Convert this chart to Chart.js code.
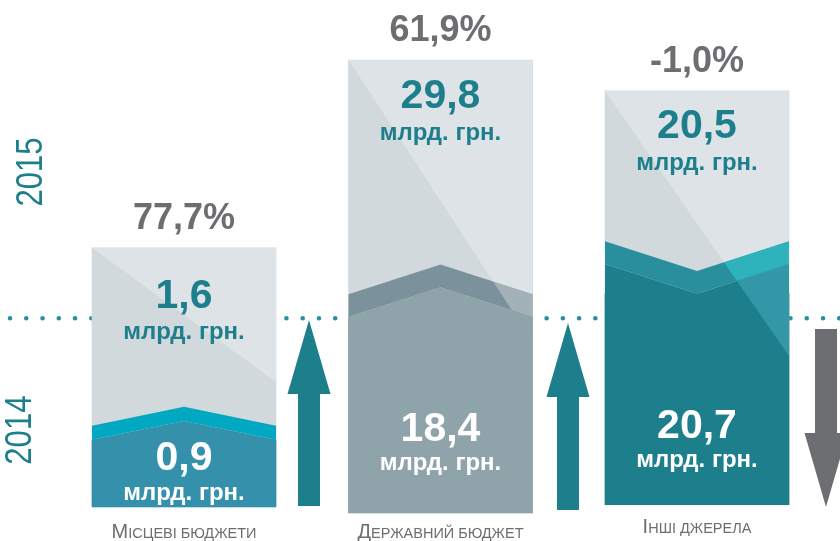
<!DOCTYPE html>
<html><head><meta charset="utf-8">
<script src="https://cdn.jsdelivr.net/npm/chart.js@4.4.0/dist/chart.umd.min.js"></script>
<style>html,body{margin:0;padding:0;background:#fff;}#wrap{width:840px;height:541px;}</style>
</head><body><div id="wrap"><canvas id="c" width="840" height="541"></canvas></div>
<script>
// ---- data ----
const categories = ['Місцеві бюджети', 'Державний бюджет', 'Інші джерела'];
const value2014 = [0.9, 18.4, 20.7];
const value2015 = [1.6, 29.8, 20.5];
const changePct = [77.7, 61.9, -1.0];
const unitLabel = 'млрд. грн.';
const yearLabels = ['2014', '2015'];
// visual levels on the hidden vertical scale (0..100 of plot height)
const levelBase = [6.3, 5.2, 6.7];
const level2014Edge = [18.7, 41.4, 51.2];
const level2014Mid = [22.2, 46.9, 45.7];
const level2015Top = [54.2, 88.9, 83.2];
const boundaryLevel = 41.2;
const yearLevel = [20.5, 68.2];
// change arrows
const arrowX = [0.4873, 1.497, 2.5029];
const arrowFrom = [6.47, 5.73, 39.19];
const arrowTo = [40.85, 40.3, 6.28];

// ---- style ----
const bandLevels = [2.6, 4.2, 4.2];
const diagLevel = [29.4, 36.8, 34.2];
const upperDark = '#d1d9dc', upperLight = '#dde3e6';
const bandColor = ['#00a9c1', '#7b929c', '#2a8f9c'];
const bandLight = ['#00a9c1', '#a3b2b8', '#2eb3bc'];
const bodyColor = ['#3590ac', '#8fa3ab', '#1e7f8c'];
const bodyLight = ['#3590ac', '#8fa3ab', '#3397a8'];
const upperDy = [49, 37, 36];
const lowerDy = [-48, -83, -78];
const labelDy = [31, 25, 28];
const teal = '#1e7f8c', grey = '#6d6e71';
const FONT = '"Liberation Sans", Arial, sans-serif';

const fmt = v => v.toFixed(1).replace('.', ',');

function poly(ctx, pts, color) {
  ctx.beginPath();
  ctx.moveTo(pts[0][0], pts[0][1]);
  for (let k = 1; k < pts.length; k++) ctx.lineTo(pts[k][0], pts[k][1]);
  ctx.closePath();
  ctx.fillStyle = color;
  ctx.fill();
}

function smallCaps(ctx, text, cx, baseline) {
  const first = text[0], rest = text.slice(1).toUpperCase();
  const big = 'normal 20px ' + FONT, small = 'normal 14.5px ' + FONT;
  ctx.font = big; const w1 = ctx.measureText(first).width;
  ctx.font = small; const w2 = ctx.measureText(rest).width;
  const x = cx - (w1 + w2) / 2;
  ctx.textAlign = 'left'; ctx.textBaseline = 'alphabetic';
  ctx.fillStyle = grey;
  ctx.font = big; ctx.fillText(first, x, baseline);
  ctx.font = small; ctx.fillText(rest, x + w1, baseline);
}

const infoPlugin = {
  id: 'info',
  beforeDraw(chart) { chart.ctx.lineCap = 'round'; },
  afterDatasetsDraw(chart) {
    const ctx = chart.ctx, ys = chart.scales.y, xs = chart.scales.x;
    const Y = v => ys.getPixelForValue(v);
    const meta = chart.getDatasetMeta(1);
    ctx.save();
    ctx.lineCap = 'butt';
    categories.forEach((cat, i) => {
      const bar = meta.data[i];
      const cx = bar.x, hw = bar.width / 2, L = cx - hw, R = cx + hw;
      const topY = Y(level2015Top[i]), baseY = Y(levelBase[i]);
      const eY = Y(level2014Edge[i]), mY = Y(level2014Mid[i]);
      const beY = Y(level2014Edge[i] + bandLevels[i]), bmY = Y(level2014Mid[i] + bandLevels[i]);
      const body = [[L, baseY], [L, eY], [cx, mY], [R, eY], [R, baseY]];
      const band = [[L, eY], [cx, mY], [R, eY], [R, beY], [cx, bmY], [L, beY]];
      const upper = [[L, topY], [R, topY], [R, beY], [cx, bmY], [L, beY]];
      poly(ctx, body, bodyColor[i]);
      poly(ctx, band, bandColor[i]);
      ctx.save();
      ctx.beginPath();
      ctx.moveTo(L, topY); ctx.lineTo(R, topY); ctx.lineTo(R, Y(diagLevel[i])); ctx.closePath();
      ctx.clip();
      poly(ctx, upper, upperLight);
      poly(ctx, band, bandLight[i]);
      poly(ctx, body, bodyLight[i]);
      ctx.restore();

      ctx.textAlign = 'center'; ctx.textBaseline = 'middle';
      ctx.fillStyle = grey; ctx.font = 'bold 36px ' + FONT;
      ctx.fillText(fmt(changePct[i]) + '%', cx, topY - 29);
      ctx.fillStyle = teal; ctx.font = 'bold 41px ' + FONT;
      ctx.fillText(fmt(value2015[i]), cx, topY + upperDy[i]);
      ctx.font = 'bold 24px ' + FONT;
      ctx.fillText(unitLabel, cx, topY + upperDy[i] + 36);
      ctx.fillStyle = '#ffffff'; ctx.font = 'bold 41px ' + FONT;
      ctx.fillText(fmt(value2014[i]), cx, baseY + lowerDy[i]);
      ctx.font = 'bold 24px ' + FONT;
      ctx.fillText(unitLabel, cx, baseY + lowerDy[i] + 34);

      smallCaps(ctx, cat, cx, baseY + labelDy[i]);
    });

    // arrows
    arrowX.forEach((ax, i) => {
      const x = xs.getPixelForValue(ax);
      const y0 = Y(arrowFrom[i]), y1 = Y(arrowTo[i]);
      const dir = Math.sign(y1 - y0);
      const hb = y1 - dir * 74;
      ctx.fillStyle = changePct[i] >= 0 ? teal : grey;
      ctx.beginPath();
      ctx.moveTo(x - 11, y0); ctx.lineTo(x - 11, hb); ctx.lineTo(x - 21.5, hb);
      ctx.lineTo(x, y1); ctx.lineTo(x + 21.5, hb); ctx.lineTo(x + 11, hb);
      ctx.lineTo(x + 11, y0); ctx.closePath(); ctx.fill();
    });

    // year labels
    const yearX = [21, 32];
    yearLabels.forEach((t, k) => {
      ctx.save();
      ctx.translate(yearX[k], Y(yearLevel[k]));
      ctx.rotate(-Math.PI / 2);
      ctx.scale(0.84, 1);
      ctx.fillStyle = teal;
      ctx.font = 'normal 37px ' + FONT;
      ctx.textAlign = 'center'; ctx.textBaseline = 'middle';
      ctx.fillText(t, 0, 0);
      ctx.restore();
    });
    ctx.restore();
  }
};

new Chart(document.getElementById('c'), {
  type: 'bar',
  data: {
    datasets: [
      {
        label: '2014',
        order: 0,
        data: categories.map((c, i) => ({ x: i, y: [levelBase[i], Math.min(level2014Edge[i], level2014Mid[i])] })),
        backgroundColor: bodyColor,
        grouped: false, barThickness: 184, borderWidth: 0
      },
      {
        label: '2015',
        order: 1,
        data: categories.map((c, i) => ({ x: i, y: [levelBase[i], level2015Top[i]] })),
        backgroundColor: upperDark,
        grouped: false, barThickness: 184, borderWidth: 0
      }
    ]
  },
  options: {
    responsive: false,
    animation: false,
    layout: { padding: { left: 10, right: 0, top: 0, bottom: 0 } },
    plugins: { legend: { display: false }, tooltip: { enabled: false } },
    scales: {
      x: { type: 'linear', min: -0.6784, max: 2.5575, offset: false, display: false },
      y: {
        type: 'linear', min: 0, max: 100, display: true,
        afterBuildTicks: s => { s.ticks = [{ value: boundaryLevel }]; },
        ticks: { display: false, padding: 0 },
        grid: { color: '#2b8e9e', lineWidth: 4.6, drawTicks: false },
        border: { display: false, dash: [0.01, 16.25], dashOffset: 0 }
      }
    }
  },
  plugins: [infoPlugin]
});
</script>
</body></html>
